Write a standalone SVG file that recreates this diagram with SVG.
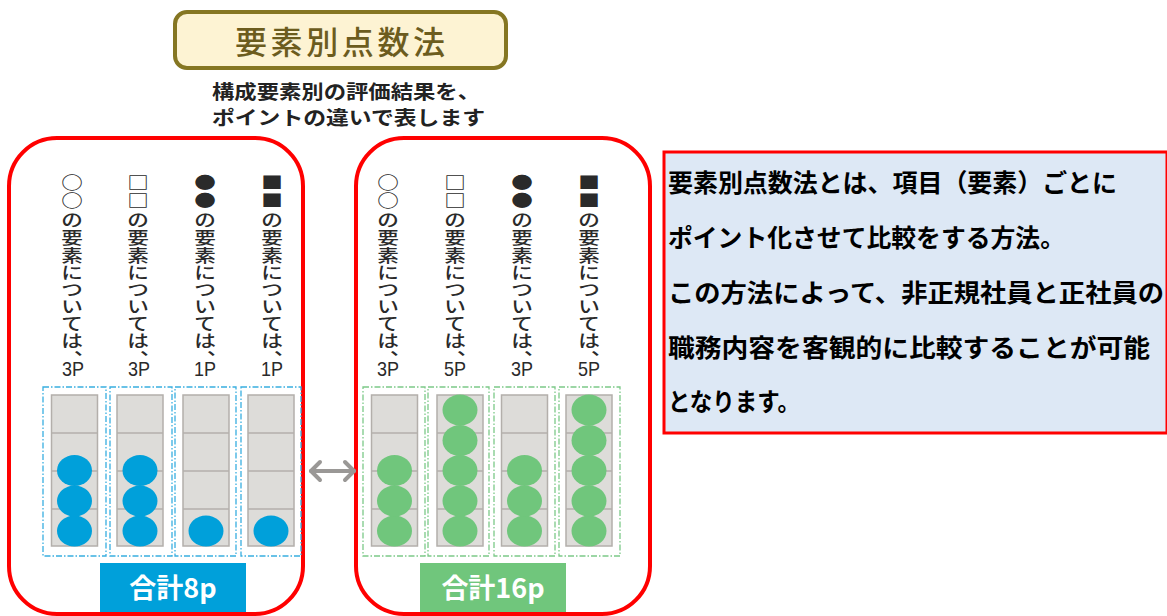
<svg xmlns="http://www.w3.org/2000/svg" width="1167" height="616" viewBox="0 0 1167 616">
<defs>
<style>
.vc{font-family:"Noto Sans CJK JP","Noto Sans",sans-serif;font-size:17px;fill:#2a2a2a;font-weight:500;text-anchor:middle;dominant-baseline:central}
.pt{font-family:"Liberation Sans",Arial,sans-serif;font-size:21px;fill:#2a2a2a;text-anchor:middle}
.redbox{fill:none;stroke:#ff0000;stroke-width:4}
.bar{fill:#dddcd9;stroke:#b3afab;stroke-width:1.5}
.grid{stroke:#b3afab;stroke-width:1.5}
.fb{fill:none;stroke:#38aee0;stroke-width:1.3;stroke-dasharray:6 2 1.5 2}
.fg{fill:none;stroke:#7cc988;stroke-width:1.3;stroke-dasharray:6 2 1.5 2}
.cb{fill:#00a0da}
.cg{fill:#70c67c}
.tot{font-family:"Noto Sans CJK JP",sans-serif;font-size:27px;font-weight:bold;fill:#ffffff;text-anchor:middle}
.desc{font-family:"Noto Sans CJK JP",sans-serif;font-size:25px;font-weight:bold;fill:#000}
.sub{font-family:"Noto Sans CJK JP",sans-serif;font-size:19px;font-weight:bold;fill:#222}
</style>
<g id="barshape">
<rect class="bar" x="-23" y="395" width="46" height="151"/>
<line class="grid" x1="-23" y1="433" x2="23" y2="433"/>
<line class="grid" x1="-23" y1="471" x2="23" y2="471"/>
<line class="grid" x1="-23" y1="509" x2="23" y2="509"/>
</g>
</defs>
<rect width="1167" height="616" fill="#ffffff"/>

<g id="title">
<rect x="175" y="12" width="331" height="56" rx="12" fill="#fdf3d3" stroke="#857622" stroke-width="4"/>
<text x="340" y="54" font-family="'Noto Sans CJK JP',sans-serif" font-size="32" font-weight="500" fill="#6c5c1e" text-anchor="middle" textLength="210" lengthAdjust="spacing">要素別点数法</text>
</g>

<g id="subtitle">
<text class="sub" x="212" y="99" textLength="268" lengthAdjust="spacingAndGlyphs">構成要素別の評価結果を、</text>
<text class="sub" x="212" y="125" textLength="273" lengthAdjust="spacingAndGlyphs">ポイントの違いで表します</text>
</g>

<g id="left-panel">
<rect class="redbox" x="9" y="138" width="294" height="476" rx="48"/>
<text class="vc" transform="translate(72 0) scale(1.27 1)"><tspan x="0" y="181">○</tspan><tspan x="0" y="199">○</tspan><tspan x="0" y="218">の</tspan><tspan x="0" y="236">要</tspan><tspan x="0" y="254">素</tspan><tspan x="0" y="271">に</tspan><tspan x="0" y="288">つ</tspan><tspan x="0" y="305">い</tspan><tspan x="0" y="322">て</tspan><tspan x="0" y="339">は</tspan><tspan x="10" y="347">、</tspan></text>
<text class="vc" transform="translate(138 0) scale(1.27 1)"><tspan x="0" y="181">□</tspan><tspan x="0" y="199">□</tspan><tspan x="0" y="218">の</tspan><tspan x="0" y="236">要</tspan><tspan x="0" y="254">素</tspan><tspan x="0" y="271">に</tspan><tspan x="0" y="288">つ</tspan><tspan x="0" y="305">い</tspan><tspan x="0" y="322">て</tspan><tspan x="0" y="339">は</tspan><tspan x="10" y="347">、</tspan></text>
<text class="vc" transform="translate(205 0) scale(1.27 1)"><tspan x="0" y="181">●</tspan><tspan x="0" y="199">●</tspan><tspan x="0" y="218">の</tspan><tspan x="0" y="236">要</tspan><tspan x="0" y="254">素</tspan><tspan x="0" y="271">に</tspan><tspan x="0" y="288">つ</tspan><tspan x="0" y="305">い</tspan><tspan x="0" y="322">て</tspan><tspan x="0" y="339">は</tspan><tspan x="10" y="347">、</tspan></text>
<text class="vc" transform="translate(272 0) scale(1.27 1)"><tspan x="0" y="181">■</tspan><tspan x="0" y="199">■</tspan><tspan x="0" y="218">の</tspan><tspan x="0" y="236">要</tspan><tspan x="0" y="254">素</tspan><tspan x="0" y="271">に</tspan><tspan x="0" y="288">つ</tspan><tspan x="0" y="305">い</tspan><tspan x="0" y="322">て</tspan><tspan x="0" y="339">は</tspan><tspan x="10" y="347">、</tspan></text>
<text class="pt" x="73" y="376" textLength="22" lengthAdjust="spacingAndGlyphs">3P</text>
<text class="pt" x="139" y="376" textLength="22" lengthAdjust="spacingAndGlyphs">3P</text>
<text class="pt" x="205" y="376" textLength="22" lengthAdjust="spacingAndGlyphs">1P</text>
<text class="pt" x="272" y="376" textLength="22" lengthAdjust="spacingAndGlyphs">1P</text>

<rect class="fb" x="43" y="387" width="63" height="169"/>
<rect class="fb" x="110" y="387" width="62" height="169"/>
<rect class="fb" x="175" y="387" width="61" height="169"/>
<rect class="fb" x="241" y="387" width="60" height="169"/>

<use href="#barshape" x="74.5"/>
<use href="#barshape" x="140"/>
<use href="#barshape" x="206"/>
<use href="#barshape" x="271"/>

<ellipse class="cb" cx="74.5" cy="531" rx="17.5" ry="15.5"/>
<ellipse class="cb" cx="74.5" cy="501" rx="17.5" ry="15.5"/>
<ellipse class="cb" cx="74.5" cy="470.5" rx="17.5" ry="15.5"/>
<ellipse class="cb" cx="140" cy="531" rx="17.5" ry="15.5"/>
<ellipse class="cb" cx="140" cy="501" rx="17.5" ry="15.5"/>
<ellipse class="cb" cx="140" cy="470.5" rx="17.5" ry="15.5"/>
<ellipse class="cb" cx="206" cy="531" rx="17.5" ry="15.5"/>
<ellipse class="cb" cx="271" cy="531" rx="17.5" ry="15.5"/>

<rect x="100" y="563" width="146" height="49" fill="#00a0da"/>
<text class="tot" x="173" y="598">合計8p</text>
</g>

<g id="right-panel">
<rect class="redbox" x="356" y="138" width="294" height="476" rx="48"/>
<text class="vc" transform="translate(388 0) scale(1.27 1)"><tspan x="0" y="181">○</tspan><tspan x="0" y="199">○</tspan><tspan x="0" y="218">の</tspan><tspan x="0" y="236">要</tspan><tspan x="0" y="254">素</tspan><tspan x="0" y="271">に</tspan><tspan x="0" y="288">つ</tspan><tspan x="0" y="305">い</tspan><tspan x="0" y="322">て</tspan><tspan x="0" y="339">は</tspan><tspan x="10" y="347">、</tspan></text>
<text class="vc" transform="translate(455 0) scale(1.27 1)"><tspan x="0" y="181">□</tspan><tspan x="0" y="199">□</tspan><tspan x="0" y="218">の</tspan><tspan x="0" y="236">要</tspan><tspan x="0" y="254">素</tspan><tspan x="0" y="271">に</tspan><tspan x="0" y="288">つ</tspan><tspan x="0" y="305">い</tspan><tspan x="0" y="322">て</tspan><tspan x="0" y="339">は</tspan><tspan x="10" y="347">、</tspan></text>
<text class="vc" transform="translate(522 0) scale(1.27 1)"><tspan x="0" y="181">●</tspan><tspan x="0" y="199">●</tspan><tspan x="0" y="218">の</tspan><tspan x="0" y="236">要</tspan><tspan x="0" y="254">素</tspan><tspan x="0" y="271">に</tspan><tspan x="0" y="288">つ</tspan><tspan x="0" y="305">い</tspan><tspan x="0" y="322">て</tspan><tspan x="0" y="339">は</tspan><tspan x="10" y="347">、</tspan></text>
<text class="vc" transform="translate(589 0) scale(1.27 1)"><tspan x="0" y="181">■</tspan><tspan x="0" y="199">■</tspan><tspan x="0" y="218">の</tspan><tspan x="0" y="236">要</tspan><tspan x="0" y="254">素</tspan><tspan x="0" y="271">に</tspan><tspan x="0" y="288">つ</tspan><tspan x="0" y="305">い</tspan><tspan x="0" y="322">て</tspan><tspan x="0" y="339">は</tspan><tspan x="10" y="347">、</tspan></text>
<text class="pt" x="388" y="376" textLength="22" lengthAdjust="spacingAndGlyphs">3P</text>
<text class="pt" x="455" y="376" textLength="22" lengthAdjust="spacingAndGlyphs">5P</text>
<text class="pt" x="522" y="376" textLength="22" lengthAdjust="spacingAndGlyphs">3P</text>
<text class="pt" x="589" y="376" textLength="22" lengthAdjust="spacingAndGlyphs">5P</text>

<rect class="fg" x="363" y="387" width="62" height="169"/>
<rect class="fg" x="428" y="387" width="61" height="169"/>
<rect class="fg" x="494" y="387" width="61" height="169"/>
<rect class="fg" x="559" y="387" width="61" height="169"/>

<use href="#barshape" x="394.5"/>
<use href="#barshape" x="460"/>
<use href="#barshape" x="524.5"/>
<use href="#barshape" x="589"/>

<ellipse class="cg" cx="394.5" cy="531" rx="17.5" ry="15.5"/>
<ellipse class="cg" cx="394.5" cy="501" rx="17.5" ry="15.5"/>
<ellipse class="cg" cx="394.5" cy="470.5" rx="17.5" ry="15.5"/>
<ellipse class="cg" cx="460" cy="531" rx="17.5" ry="15.5"/>
<ellipse class="cg" cx="460" cy="501" rx="17.5" ry="15.5"/>
<ellipse class="cg" cx="460" cy="470.5" rx="17.5" ry="15.5"/>
<ellipse class="cg" cx="460" cy="440.5" rx="17.5" ry="15.5"/>
<ellipse class="cg" cx="460" cy="410" rx="17.5" ry="15.5"/>
<ellipse class="cg" cx="524.5" cy="531" rx="17.5" ry="15.5"/>
<ellipse class="cg" cx="524.5" cy="501" rx="17.5" ry="15.5"/>
<ellipse class="cg" cx="524.5" cy="470.5" rx="17.5" ry="15.5"/>
<ellipse class="cg" cx="589" cy="531" rx="17.5" ry="15.5"/>
<ellipse class="cg" cx="589" cy="501" rx="17.5" ry="15.5"/>
<ellipse class="cg" cx="589" cy="470.5" rx="17.5" ry="15.5"/>
<ellipse class="cg" cx="589" cy="440.5" rx="17.5" ry="15.5"/>
<ellipse class="cg" cx="589" cy="410" rx="17.5" ry="15.5"/>

<rect x="420" y="563" width="146" height="49" fill="#70c67c"/>
<text class="tot" x="493" y="598">合計16p</text>
</g>

<g id="connectors">
<g fill="none" stroke="#9a9896" stroke-width="4" stroke-linecap="round" stroke-linejoin="round">
<line x1="311" y1="471" x2="354" y2="471"/>
<polyline points="320,462 311,471 320,480"/>
<polyline points="345,462 354,471 345,480"/>
</g>
</g>

<g id="description">
<rect x="664" y="152" width="503" height="281" fill="#dde8f5" stroke="#ff0000" stroke-width="3"/>
<text class="desc" x="668" y="192" textLength="449" lengthAdjust="spacingAndGlyphs">要素別点数法とは、項目（要素）ごとに</text>
<text class="desc" x="668" y="247" textLength="397" lengthAdjust="spacingAndGlyphs">ポイント化させて比較をする方法。</text>
<text class="desc" x="668" y="302" textLength="496" lengthAdjust="spacingAndGlyphs">この方法によって、非正規社員と正社員の</text>
<text class="desc" x="668" y="357" textLength="482" lengthAdjust="spacingAndGlyphs">職務内容を客観的に比較することが可能</text>
<text class="desc" x="668" y="411" textLength="132" lengthAdjust="spacingAndGlyphs">となります。</text>
</g>
</svg>
